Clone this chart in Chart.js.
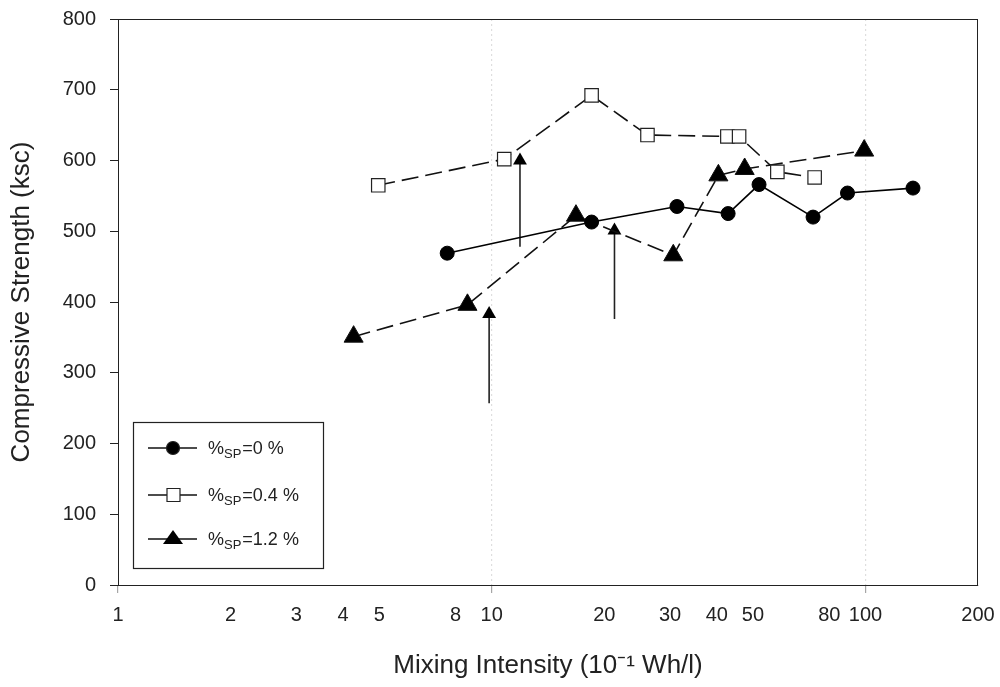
<!DOCTYPE html>
<html><head><meta charset="utf-8">
<script src="https://cdn.jsdelivr.net/npm/chart.js@4/dist/chart.umd.min.js"></script>
<style>html,body{margin:0;padding:0;background:#fff}#wrap{width:1000px;height:687px}</style>
</head><body><div id="wrap"><canvas id="c" width="1000" height="687"></canvas></div>
<script>
const xTickValues = [1,2,3,4,5,8,10,20,30,40,50,80,100,200];
const sp0X = [7.6, 18.5, 31.3, 42.9, 51.9, 72.4, 89.5, 134];
const sp0Y = [469, 513, 535, 525, 566, 520, 554, 561];
const sp04X = [4.97, 10.8, 18.5, 26.1, 42.7, 45.9, 58.1, 73.1];
const sp04Y = [565, 602, 692, 636, 634, 634, 584, 576];
const sp12X = [4.27, 8.61, 16.8, 30.6, 40.4, 47.5, 99.2];
const sp12Y = [351, 396, 522, 466, 579, 588, 614];
const arrowX = [9.84, 11.9, 21.3];
const arrowFrom = [257, 478, 376];
const arrowTo = [383, 600, 501];
const legendLabels = [["%","SP","=0 %"],["%","SP","=0.4 %"],["%","SP","=1.2 %"]];

const pts = (xs, ys) => xs.map((x,i)=>({x, y: ys[i]}));
const FONT = "'Liberation Sans', Arial, sans-serif";

const datasets = [
  {label:'0', data: pts(sp0X, sp0Y), borderColor:'#000', backgroundColor:'#000', borderWidth:1.6,
   pointStyle:'circle', pointRadius:7, pointBorderWidth:1},
  {label:'0.4', data: pts(sp04X, sp04Y), borderColor:'#111', backgroundColor:'#fff', borderWidth:1.6,
   borderDash:[17,7], pointStyle:'rect', pointRadius:9.5, pointBorderWidth:1.2, pointBorderColor:'#222'},
  {label:'1.2', data: pts(sp12X, sp12Y), borderColor:'#111', backgroundColor:'#000', borderWidth:1.6,
   borderDash:[17,7], pointStyle:'triangle', pointRadius:11, pointBorderWidth:1}
];
arrowX.forEach((x,i)=>{
  datasets.push({label:'arrow'+i, data:[{x, y:arrowFrom[i]},{x, y:arrowTo[i]}], borderColor:'#222',
    backgroundColor:'#000', borderWidth:1.6, pointStyle:'triangle', pointRadius:[0,8], pointBorderWidth:0});
});

const frame = {
  id:'frame',
  afterDraw(chart){
    const {ctx, chartArea:a} = chart;
    ctx.save();
    ctx.strokeStyle='#222'; ctx.lineWidth=1;
    ctx.strokeRect(a.left+0.5, a.top+0.5, a.right-a.left-1, a.bottom-a.top);
    // legend
    const lx=133, ly=422, lw=190, lh=146;
    ctx.fillStyle='#fff'; ctx.fillRect(lx,ly,lw,lh);
    ctx.strokeStyle='#222'; ctx.lineWidth=1.2; ctx.strokeRect(lx+0.5,ly+0.5,lw,lh);
    const rows=[448,495,539];
    rows.forEach((ry,i)=>{
      ctx.strokeStyle='#111'; ctx.lineWidth=1.6; ctx.setLineDash([]);
      ctx.beginPath(); ctx.moveTo(148,ry); ctx.lineTo(197,ry); ctx.stroke();
      ctx.fillStyle = i===1?'#fff':'#000'; ctx.strokeStyle='#222'; ctx.lineWidth=1.2;
      ctx.beginPath();
      if(i===0){ctx.arc(173,ry,6.5,0,Math.PI*2);ctx.fill();ctx.stroke();}
      else if(i===1){ctx.rect(167,ry-6.5,13,13);ctx.fill();ctx.stroke();}
      else {ctx.moveTo(173,ry-9);ctx.lineTo(183,ry+5);ctx.lineTo(163,ry+5);ctx.closePath();ctx.fill();}
      const [a1,sub,a2]=legendLabels[i];
      ctx.fillStyle='#222'; ctx.textBaseline='alphabetic'; ctx.textAlign='left';
      let tx=208;
      ctx.font='18px '+FONT; ctx.fillText(a1,tx,ry+6); tx+=ctx.measureText(a1).width;
      ctx.font='13px '+FONT; ctx.fillText(sub,tx,ry+10); tx+=ctx.measureText(sub).width+1;
      ctx.font='18px '+FONT; ctx.fillText(a2,tx,ry+6);
    });
    ctx.restore();
  }
};

new Chart(document.getElementById('c'), {
  type:'line',
  data:{datasets},
  options:{
    responsive:false, animation:false, events:[],
    layout:{padding:{left:6,right:22,top:19,bottom:6}},
    plugins:{legend:{display:false}, tooltip:{enabled:false}},
    scales:{
      x:{type:'logarithmic', min:1, max:200,
        afterBuildTicks(s){ s.ticks = xTickValues.map(v=>({value:v})); },
        afterFit(s){ s.height = 96; s.paddingLeft = 0; s.paddingRight = 0; },
        ticks:{autoSkip:false, maxRotation:0, color:'#222', font:{size:20, family:FONT}, padding:10,
          callback:(v)=>String(v)},
        grid:{drawOnChartArea:true, color:(c)=>([10,100].includes(c.tick&&c.tick.value)?'rgba(0,0,0,0.13)':'rgba(0,0,0,0)'),
          tickColor:(c)=>([1,10,100].includes(c.tick&&c.tick.value)?'rgba(0,0,0,0.35)':'rgba(0,0,0,0)'),
          tickLength:8, lineWidth:1.2},
        border:{display:true, color:'#222', width:1, dash:[2,3]},
        title:{display:true, text:'Mixing Intensity (10\u207B\u00B9 Wh/l)', color:'#222', font:{size:26, family:FONT}, padding:{top:0,bottom:0}}
      },
      y:{type:'linear', min:0, max:800,
        afterFit(s){ s.width = 112; s.paddingTop = 0; s.paddingBottom = 0; },
        ticks:{stepSize:100, color:'#222', font:{size:20, family:FONT}, padding:14},
        grid:{drawOnChartArea:false, color:'#222', tickLength:8},
        border:{display:true, color:'#222', width:1},
        title:{display:true, text:'Compressive Strength (ksc)', color:'#222', font:{size:26, family:FONT}, padding:{top:0,bottom:0}}
      }
    }
  },
  plugins:[frame]
});
</script></body></html>
